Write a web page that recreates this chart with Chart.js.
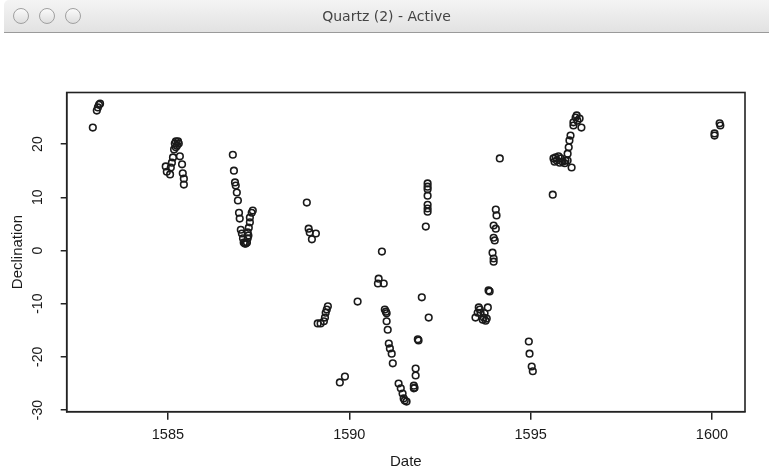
<!DOCTYPE html>
<html>
<head>
<meta charset="utf-8">
<script src="https://cdn.jsdelivr.net/npm/chart.js@4.4.1/dist/chart.umd.min.js"></script>
<style>
  html, body { margin: 0; padding: 0; background: #fff; }
  body { width: 769px; height: 471px; position: relative; overflow: hidden; font-family: "Liberation Sans", Arial, sans-serif; }
  .titlebar {
    position: absolute; left: 4px; top: 0; width: 765px; height: 32px;
    background: linear-gradient(#f4f4f4, #e2e2e2);
    border-bottom: 1px solid #9a9a9a; border-top-left-radius: 5px;
    z-index: 2;
  }
  .titlebar .btn {
    position: absolute; top: 8px; width: 14px; height: 14px; border-radius: 50%;
    border: 1px solid #a0a0a0; background: linear-gradient(#fafafa, #dedede);
  }
  .titlebar .label {
    position: absolute; left: 0; right: 0; top: 8px; text-align: center;
    font: 14px "DejaVu Sans", "Liberation Sans", sans-serif; color: #444;
  }
  #wrap { position: absolute; left: 0; top: 0; width: 769px; height: 471px; }
</style>
</head>
<body>
<div class="titlebar">
  <div class="btn" style="left: 9px"></div>
  <div class="btn" style="left: 35px"></div>
  <div class="btn" style="left: 61px"></div>
  <div class="label">Quartz (2) - Active</div>
</div>
<div id="wrap"><canvas id="chart"></canvas></div>
<script>
  // dates (years) and declination (degrees)
  const dates = [
    1582.93, 1583.04, 1583.07, 1583.10, 1583.13,
    1584.94, 1584.97, 1585.06, 1585.08, 1585.11, 1585.14, 1585.17, 1585.22, 1585.19,
    1585.22, 1585.28, 1585.30, 1585.25, 1585.33, 1585.39, 1585.41, 1585.44, 1585.44,
    1586.79, 1586.82, 1586.85, 1586.87, 1586.90, 1586.93, 1586.96, 1586.98, 1587.01,
    1587.04, 1587.07, 1587.09, 1587.12, 1587.15, 1587.18, 1587.20, 1587.22, 1587.20,
    1587.23, 1587.26, 1587.26, 1587.31, 1587.34,
    1588.83, 1588.88, 1588.91, 1588.97, 1589.08,
    1589.13, 1589.21, 1589.30, 1589.33, 1589.35, 1589.38, 1589.41,
    1589.74, 1589.88, 1590.23,
    1590.79, 1590.81, 1590.90, 1590.95, 1590.98, 1591.01, 1591.03, 1591.03, 1591.06,
    1591.09, 1591.12, 1591.17, 1591.20, 1591.36, 1591.42, 1591.47, 1591.50, 1591.53, 1591.58,
    1591.78, 1591.80, 1591.78, 1591.83, 1591.83, 1591.89, 1591.91, 1592.00, 1592.19,
    1592.11, 1592.16, 1592.16, 1592.16, 1592.16, 1592.16, 1592.16, 1592.16,
    1593.48, 1593.54, 1593.57, 1593.60, 1593.62, 1593.68, 1593.71, 1593.73, 1593.76,
    1593.79, 1593.82, 1593.84, 1593.87,
    1593.95, 1593.98, 1593.98, 1594.01, 1593.98, 1594.04, 1593.98, 1594.06, 1594.04, 1594.15,
    1594.95, 1594.97, 1595.03, 1595.06,
    1595.61, 1595.63, 1595.66, 1595.69, 1595.72, 1595.77, 1595.80, 1595.83, 1595.88,
    1595.94, 1595.96, 1596.02, 1596.02, 1596.05, 1596.07, 1596.10, 1596.13,
    1596.18, 1596.18, 1596.24, 1596.27, 1596.29, 1596.35, 1596.40,
    1600.07, 1600.07, 1600.21, 1600.23
  ];
  const declination = [
    23.1, 26.3, 26.9, 27.4, 27.6,
    15.8, 14.8, 14.3, 15.6, 16.5, 17.5, 19.0, 19.4, 20.1,
    20.5, 20.5, 20.1, 19.7, 17.7, 16.2, 14.5, 13.5, 12.4,
    18.0, 15.0, 12.8, 12.2, 10.9, 9.4, 7.1, 6.0, 3.9,
    3.2, 2.3, 1.5, 1.3, 1.3, 1.5, 2.3, 2.8, 3.4,
    4.3, 5.3, 6.2, 7.1, 7.5,
    9.0, 4.1, 3.4, 2.1, 3.2,
    -13.7, -13.7, -13.3, -12.6, -11.7, -11.1, -10.5,
    -24.8, -23.7, -9.6,
    -6.2, -5.3, -0.2, -6.2, -11.1, -11.5, -11.8, -13.3, -14.9,
    -17.5, -18.4, -19.4, -21.2, -25.0, -25.9, -26.9, -27.8, -28.2, -28.4,
    -25.4, -25.8, -25.9, -23.5, -22.2, -16.7, -16.9, -8.8, -12.6,
    4.5, 7.3, 7.9, 8.6, 10.3, 11.5, 12.0, 12.6,
    -12.6, -11.7, -10.7, -11.1, -11.7, -13.0, -12.6, -11.8, -13.2,
    -12.8, -10.7, -7.5, -7.7,
    -0.4, -1.5, -2.1, 1.9, 2.4, 4.1, 4.7, 6.6, 7.7, 17.3,
    -17.1, -19.4, -21.8, -22.7,
    10.5, 17.3, 16.7, 17.5, 16.9, 17.7, 16.5, 17.3, 16.7,
    16.4, 16.9, 16.9, 18.2, 19.4, 20.7, 21.6, 15.6,
    23.5, 24.1, 25.0, 25.4, 24.4, 24.8, 23.1,
    21.6, 22.0, 23.9, 23.5
  ];
  const xTicks = [1585, 1590, 1595, 1600];
  const yTicks = [-30, -20, -10, 0, 10, 20];

  const ink = "#1a1a1a";
  const labelFont = "'Liberation Sans', Arial, sans-serif";

  // R-style box round the plot region
  const boxPlugin = {
    id: "box",
    afterDraw(chart) {
      const { ctx, chartArea: a } = chart;
      ctx.save();
      ctx.strokeStyle = "#222";
      ctx.lineWidth = 1.6;
      ctx.strokeRect(a.left, a.top, a.right - a.left, a.bottom - a.top);
      ctx.restore();
    },
  };

  new Chart(document.getElementById("chart"), {
    type: "scatter",
    data: {
      datasets: [
        {
          data: dates.map((d, i) => ({ x: d, y: declination[i] })),
          pointRadius: 3.3,
          pointBorderWidth: 1.6,
          borderColor: ink,
          backgroundColor: "rgba(0,0,0,0)",
          pointHoverRadius: 3.3,
        },
      ],
    },
    options: {
      responsive: true,
      maintainAspectRatio: false,
      animation: false,
      events: [],
      layout: { padding: { top: 92.5, right: 24, left: 0, bottom: 0 } },
      plugins: { legend: { display: false }, tooltip: { enabled: false } },
      scales: {
        x: {
          type: "linear",
          min: 1582.21,
          max: 1600.91,
          afterBuildTicks: (axis) => { axis.ticks = xTicks.map((v) => ({ value: v })); },
          afterFit: (axis) => { axis.height = 59.3; },
          grid: { drawOnChartArea: false, drawTicks: true, tickLength: 8, color: "#222", lineWidth: 1.5 },
          border: { display: true, color: "#222", width: 1.5 },
          ticks: {
            color: ink, padding: 7, maxRotation: 0,
            callback: (v) => String(v),
            font: { family: labelFont, size: 14.5 },
          },
          title: {
            display: true, text: "Date", color: ink, padding: { top: 0, bottom: 0 },
            font: { family: labelFont, size: 15 },
          },
        },
        y: {
          type: "linear",
          min: -30.3,
          max: 29.7,
          afterBuildTicks: (axis) => { axis.ticks = yTicks.map((v) => ({ value: v })); },
          afterFit: (axis) => { axis.width = 66.7; },
          grid: { drawOnChartArea: false, drawTicks: true, tickLength: 6, color: "#222", lineWidth: 1.5 },
          border: { display: true, color: "#222", width: 1.5 },
          ticks: {
            color: ink, padding: 12, minRotation: 90, maxRotation: 90, crossAlign: "center",
            callback: (v) => String(v),
            font: { family: labelFont, size: 14 },
          },
          title: {
            display: true, text: "Declination", color: ink, padding: { top: 9, bottom: 0 },
            font: { family: labelFont, size: 15 },
          },
        },
      },
    },
    plugins: [boxPlugin],
  });
</script>
</body>
</html>
